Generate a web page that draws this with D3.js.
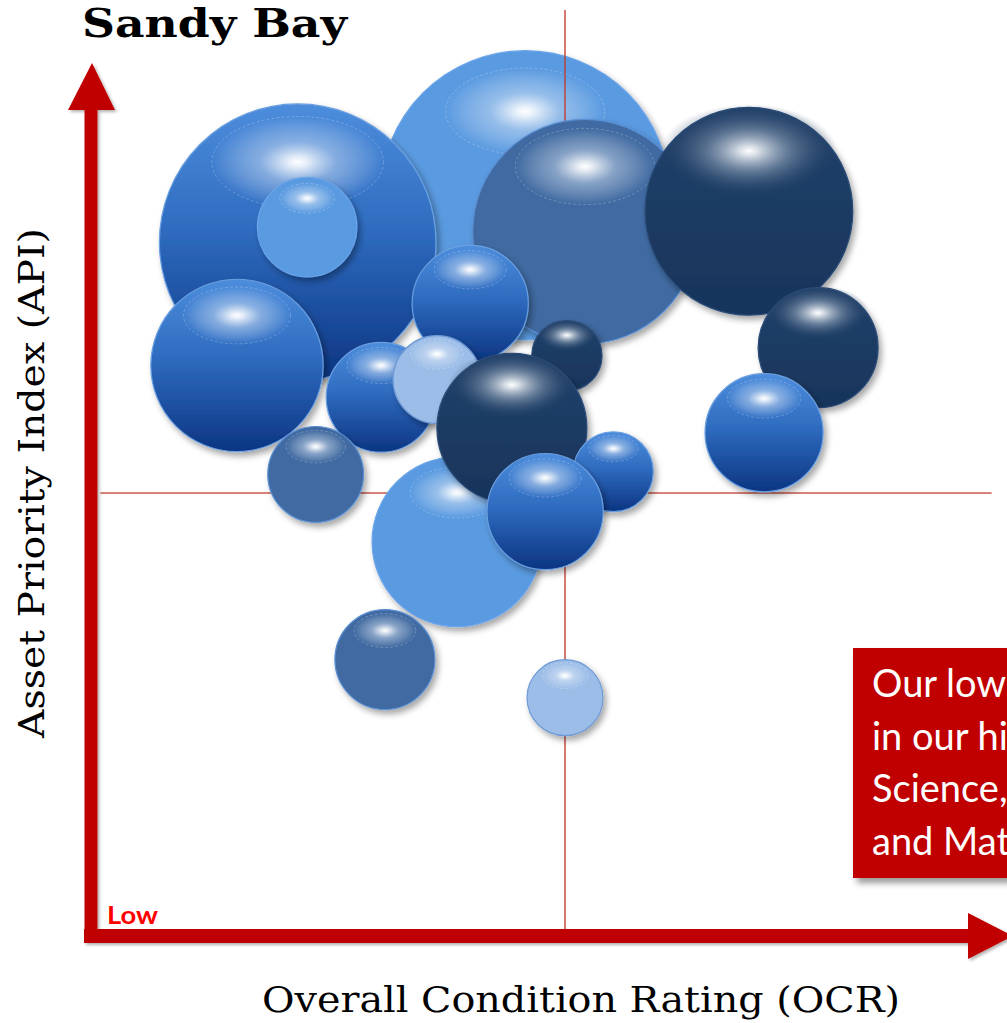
<!DOCTYPE html>
<html>
<head>
<meta charset="utf-8">
<script src="https://cdn.jsdelivr.net/npm/d3@7"></script>
<style>
  html, body { margin: 0; padding: 0; background: #fff; overflow: hidden; }
  svg { display: block; }
</style>
</head>
<body>
<svg id="chart" width="1007" height="1023"></svg>
<script>
// ---- Data: one entry per building, listed in back-to-front drawing order ----
const buildings = ["B02", "B03", "B01", "B05", "B06", "B07", "B08", "B04", "B09", "B17",
                   "B10", "B11", "B12", "B13", "B14", "B15", "B16", "B18", "B19"];
const ocr  = [45.8, 52.1, 21.8, 22.8, 15.4, 40.0, 50.2, 69.4, 76.7, 71.0,
              30.6, 36.5, 23.7, 38.6, 44.4, 55.1, 47.9, 31.0, 50.0];
const api  = [83.6, 79.5, 78.3, 80.0, 64.4, 71.4, 65.5, 81.8, 66.4, 56.8,
              60.8, 62.8, 52.1, 44.5, 57.3, 52.4, 47.9, 31.2, 26.9];
const size = [93, 56, 85, 11, 33, 15, 5.5, 48, 16, 15.5,
              13.4, 8.6, 10.2, 32, 25, 7.1, 15, 11.1, 6.4];
const group = ["Hall", "Admin", "Classroom", "Hall", "Classroom", "Classroom", "Science", "Science", "Science", "Classroom",
               "Classroom", "Portable", "Admin", "Hall", "Science", "Classroom", "Classroom", "Admin", "Portable"];
const groups = ["Classroom", "Hall", "Admin", "Science", "Portable"];

const title = "Sandy Bay";
const xTitle = "Overall Condition Rating (OCR)";
const yTitle = "Asset Priority Index (API)";
const lowLabel = "Low";
const noteLines = ["Our lowest rated buildings are", "in our highest priority areas:",
                   "Science, Technology, Engineering", "and Mathematics."];

// ---- Scales ----
const x = d3.scaleLinear().domain([0, 100]).range([91, 1039]);
const y = d3.scaleLinear().domain([0, 100]).range([936, 50]);
const r = d3.scaleSqrt().domain([0, 100]).range([0, 150]);

// sphere look for each building group
const bodyFill = d3.scaleOrdinal().domain(groups)
  .range(["url(#gBlue)", "#5a9ae0", "#3f6ba1", "url(#gNavy)", "#9cbde8"]);
const rimColor = d3.scaleOrdinal().domain(groups)
  .range(["#6a9fe0", "#6aa4ea", "#5a8fd4", "#2b4c78", "#6f9ad6"]);
const glossFill = d3.scaleOrdinal().domain(groups)
  .range(["url(#gloss)", "url(#gloss)", "url(#gloss)", "url(#glossNavy)", "url(#gloss)"]);
const glossWidth = d3.scaleOrdinal().domain(groups).range([0.62, 0.55, 0.62, 0.85, 0.6]);
const glossHeight = d3.scaleOrdinal().domain(groups).range([0.33, 0.3, 0.34, 0.45, 0.34]);

const data = buildings.map((b, i) => ({ id: b, ocr: ocr[i], api: api[i], size: size[i], group: group[i] }));

const svg = d3.select("#chart");
const defs = svg.append("defs");

// vertical gradient for the bright blue spheres
const gBlue = defs.append("linearGradient").attr("id", "gBlue").attr("x1", 0).attr("y1", 0).attr("x2", 0).attr("y2", 1);
[[0, "#4d8ddc"], [0.45, "#2f6cc0"], [1, "#0c3582"]].forEach(([o, c]) =>
  gBlue.append("stop").attr("offset", o).attr("stop-color", c));

const gNavy = defs.append("linearGradient").attr("id", "gNavy").attr("x1", 0).attr("y1", 0).attr("x2", 0).attr("y2", 1);
[[0, "#22426b"], [1, "#18345b"]].forEach(([o, c]) =>
  gNavy.append("stop").attr("offset", o).attr("stop-color", c));

// glossy highlights
const gloss = defs.append("radialGradient").attr("id", "gloss");
[[0, "#ffffff", 1], [0.12, "#ffffff", 0.85], [0.45, "#e4ecf7", 0.42], [1, "#ffffff", 0]].forEach(([o, c, a]) =>
  gloss.append("stop").attr("offset", o).attr("stop-color", c).attr("stop-opacity", a));

const glossNavy = defs.append("radialGradient").attr("id", "glossNavy");
[[0, "#ffffff", 1], [0.1, "#eef2f6", 0.9], [0.45, "#8c9fb5", 0.6], [0.8, "#3d5879", 0.3], [1, "#1c3a60", 0]].forEach(([o, c, a]) =>
  glossNavy.append("stop").attr("offset", o).attr("stop-color", c).attr("stop-opacity", a));

// soft drop shadow
function shadow(id, dx, dy, sd, op) {
  const f = defs.append("filter").attr("id", id)
    .attr("x", "-30%").attr("y", "-30%").attr("width", "170%").attr("height", "170%");
  f.append("feGaussianBlur").attr("in", "SourceAlpha").attr("stdDeviation", sd);
  f.append("feOffset").attr("dx", dx).attr("dy", dy).attr("result", "b");
  f.append("feFlood").attr("flood-color", "#000").attr("flood-opacity", op);
  f.append("feComposite").attr("in2", "b").attr("operator", "in");
  const m = f.append("feMerge");
  m.append("feMergeNode");
  m.append("feMergeNode").attr("in", "SourceGraphic");
}
shadow("shadow", 3, 4, 3, 0.35);
shadow("axisShadow", 2, 2, 1.5, 0.3);
shadow("boxShadow", 4, 5, 3, 0.4);

function drawBubbles(layer, rows) {
  const g = layer.selectAll("g.bubble").data(rows).join("g").attr("class", "bubble");
  g.append("circle")
    .attr("cx", d => x(d.ocr)).attr("cy", d => y(d.api)).attr("r", d => r(d.size))
    .attr("fill", d => bodyFill(d.group))
    .attr("stroke", d => rimColor(d.group)).attr("stroke-width", 1.2)
    .attr("filter", "url(#shadow)");
  g.append("ellipse")
    .attr("cx", d => x(d.ocr)).attr("cy", d => y(d.api) - 0.58 * r(d.size))
    .attr("rx", d => glossWidth(d.group) * r(d.size)).attr("ry", d => glossHeight(d.group) * r(d.size))
    .attr("fill", d => glossFill(d.group))
    .attr("stroke", "#ffffff").attr("stroke-opacity", d => d.group === "Science" ? 0 : 0.3)
    .attr("stroke-width", 0.8).attr("stroke-dasharray", "3 2");
}

const back = svg.append("g");
drawBubbles(back, data.slice(0, 1));

// quadrant crosshair
const cross = svg.append("g").attr("stroke", "#c0392b").attr("stroke-width", 1.6).attr("stroke-opacity", 0.85);
cross.append("line").attr("x1", x(50)).attr("x2", x(50)).attr("y1", 10).attr("y2", y(0) - 6);
cross.append("line").attr("x1", x(1)).attr("x2", x(95)).attr("y1", y(50)).attr("y2", y(50));

const front = svg.append("g");
drawBubbles(front, data.slice(1));

// ---- Axes: heavy red arrows ----
const axisRed = "#c00000";
const axes = svg.append("g").attr("filter", "url(#axisShadow)");
axes.append("line").attr("x1", x(0)).attr("x2", x(0)).attr("y1", y(0) + 7).attr("y2", 108)
  .attr("stroke", axisRed).attr("stroke-width", 13);
axes.append("path").attr("fill", axisRed)
  .attr("d", `M${x(0) - 23},110 L${x(0) + 1},63 L${x(0) + 24},110 Z`);
axes.append("line").attr("x1", x(0) - 7).attr("x2", 970).attr("y1", y(0)).attr("y2", y(0))
  .attr("stroke", axisRed).attr("stroke-width", 14);
axes.append("path").attr("fill", axisRed)
  .attr("d", `M968,${y(0) - 23} L1013,${y(0)} L968,${y(0) + 23} Z`);

svg.append("text").attr("x", 107).attr("y", 924)
  .attr("font-family", "Lato, 'Open Sans', sans-serif").attr("font-weight", 700)
  .attr("font-size", 24).attr("textLength", 51).attr("lengthAdjust", "spacingAndGlyphs")
  .attr("fill", "#ff0000").text(lowLabel);

// ---- Titles ----
svg.append("text").attr("x", 82).attr("y", 37)
  .attr("font-family", "'DejaVu Serif', serif").attr("font-weight", 700)
  .attr("font-size", 40).attr("textLength", 265).attr("lengthAdjust", "spacingAndGlyphs")
  .attr("fill", "#000").text(title);

svg.append("text").attr("x", 262).attr("y", 1012)
  .attr("font-family", "'DejaVu Serif', serif").attr("font-size", 35)
  .attr("textLength", 638).attr("lengthAdjust", "spacingAndGlyphs")
  .attr("fill", "#000").text(xTitle);

svg.append("text").attr("transform", "translate(44,738) rotate(-90)")
  .attr("font-family", "'DejaVu Serif', serif").attr("font-size", 36)
  .attr("textLength", 510).attr("lengthAdjust", "spacingAndGlyphs")
  .attr("fill", "#000").text(yTitle);

// ---- Call-out box (runs off the right edge) ----
const note = svg.append("g");
note.append("rect").attr("x", 853).attr("y", 648).attr("width", 260).attr("height", 230)
  .attr("fill", "#c00000").attr("filter", "url(#boxShadow)");
note.selectAll("text").data(noteLines).join("text")
  .attr("x", 872).attr("y", (d, i) => 697 + i * 52.5)
  .attr("font-family", "Lato, 'Open Sans', sans-serif").attr("font-size", 38)
  .attr("fill", "#ffffff").text(d => d);
</script>
</body>
</html>
